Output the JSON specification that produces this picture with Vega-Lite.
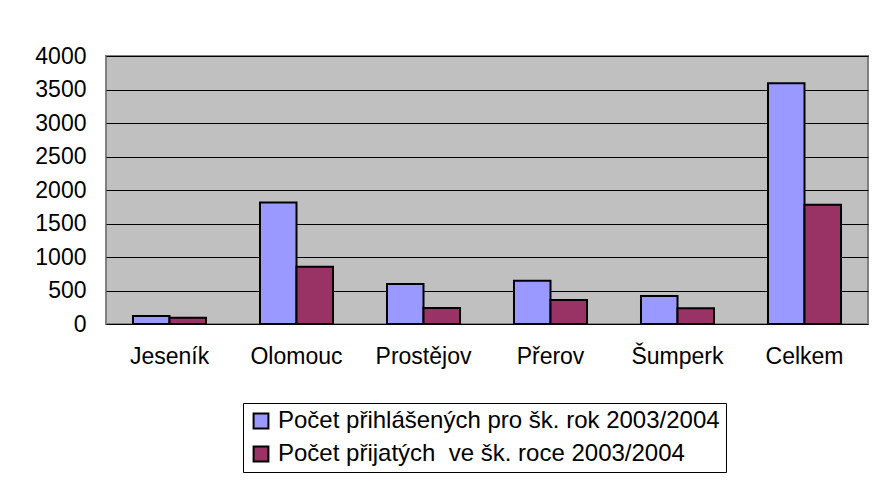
{
  "$schema": "https://vega.github.io/schema/vega-lite/v6.json",
  "width": 762,
  "height": 268,
  "padding": {"left": 106, "top": 56, "right": 12, "bottom": 157},
  "autosize": {"type": "none"},
  "background": "white",
  "data": {
    "values": [
      {"okres": "Jeseník", "serie": "Počet přihlášených pro šk. rok 2003/2004", "pocet": 120},
      {"okres": "Jeseník", "serie": "Počet přijatých  ve šk. roce 2003/2004", "pocet": 95},
      {"okres": "Olomouc", "serie": "Počet přihlášených pro šk. rok 2003/2004", "pocet": 1815},
      {"okres": "Olomouc", "serie": "Počet přijatých  ve šk. roce 2003/2004", "pocet": 855},
      {"okres": "Prostějov", "serie": "Počet přihlášených pro šk. rok 2003/2004", "pocet": 598},
      {"okres": "Prostějov", "serie": "Počet přijatých  ve šk. roce 2003/2004", "pocet": 240},
      {"okres": "Přerov", "serie": "Počet přihlášených pro šk. rok 2003/2004", "pocet": 647},
      {"okres": "Přerov", "serie": "Počet přijatých  ve šk. roce 2003/2004", "pocet": 358},
      {"okres": "Šumperk", "serie": "Počet přihlášených pro šk. rok 2003/2004", "pocet": 418},
      {"okres": "Šumperk", "serie": "Počet přijatých  ve šk. roce 2003/2004", "pocet": 234},
      {"okres": "Celkem", "serie": "Počet přihlášených pro šk. rok 2003/2004", "pocet": 3592},
      {"okres": "Celkem", "serie": "Počet přijatých  ve šk. roce 2003/2004", "pocet": 1781}
    ]
  },
  "mark": {"type": "bar", "stroke": "black", "strokeWidth": 2},
  "encoding": {
    "x": {
      "field": "okres",
      "type": "nominal",
      "sort": ["Jeseník", "Olomouc", "Prostějov", "Přerov", "Šumperk", "Celkem"],
      "scale": {"paddingInner": 0.425, "paddingOuter": 0.2125},
      "axis": {
        "title": null,
        "labelAngle": 0,
        "labelFont": "Liberation Sans",
        "labelFontSize": 23,
        "labelColor": "black",
        "labelPadding": 21,
        "ticks": false,
        "domain": false,
        "grid": false
      }
    },
    "xOffset": {
      "field": "serie",
      "type": "nominal",
      "sort": ["Počet přihlášených pro šk. rok 2003/2004", "Počet přijatých  ve šk. roce 2003/2004"],
      "scale": {"paddingInner": 0, "paddingOuter": 0}
    },
    "y": {
      "field": "pocet",
      "type": "quantitative",
      "scale": {"domain": [0, 4000], "nice": false},
      "axis": {
        "title": null,
        "format": "d",
        "values": [0, 500, 1000, 1500, 2000, 2500, 3000, 3500, 4000],
        "labelFont": "Liberation Sans",
        "labelFontSize": 23,
        "labelColor": "black",
        "labelPadding": 20,
        "ticks": false,
        "domain": false,
        "grid": true,
        "gridColor": "black",
        "gridWidth": 1,
        "gridOpacity": 1
      }
    },
    "color": {
      "field": "serie",
      "type": "nominal",
      "sort": ["Počet přihlášených pro šk. rok 2003/2004", "Počet přijatých  ve šk. roce 2003/2004"],
      "scale": {"range": ["#9999FF", "#993366"]},
      "legend": {
        "title": null,
        "orient": "none",
        "legendX": 137,
        "legendY": 347,
        "direction": "vertical",
        "symbolType": "square",
        "symbolSize": 220,
        "symbolStrokeColor": "black",
        "symbolStrokeWidth": 2,
        "symbolOpacity": 1,
        "labelFont": "Liberation Sans",
        "labelFontSize": 24,
        "labelColor": "black",
        "labelLimit": 600,
        "labelOffset": 5,
        "labelExpr": "replace(datum.label, '  ', ' \u00a0')",
        "rowPadding": 9,
        "padding": 6,
        "strokeColor": "black",
        "fillColor": "white"
      }
    }
  },
  "config": {
    "view": {"fill": "#C0C0C0", "stroke": "#808080", "strokeWidth": 2}
  }
}
